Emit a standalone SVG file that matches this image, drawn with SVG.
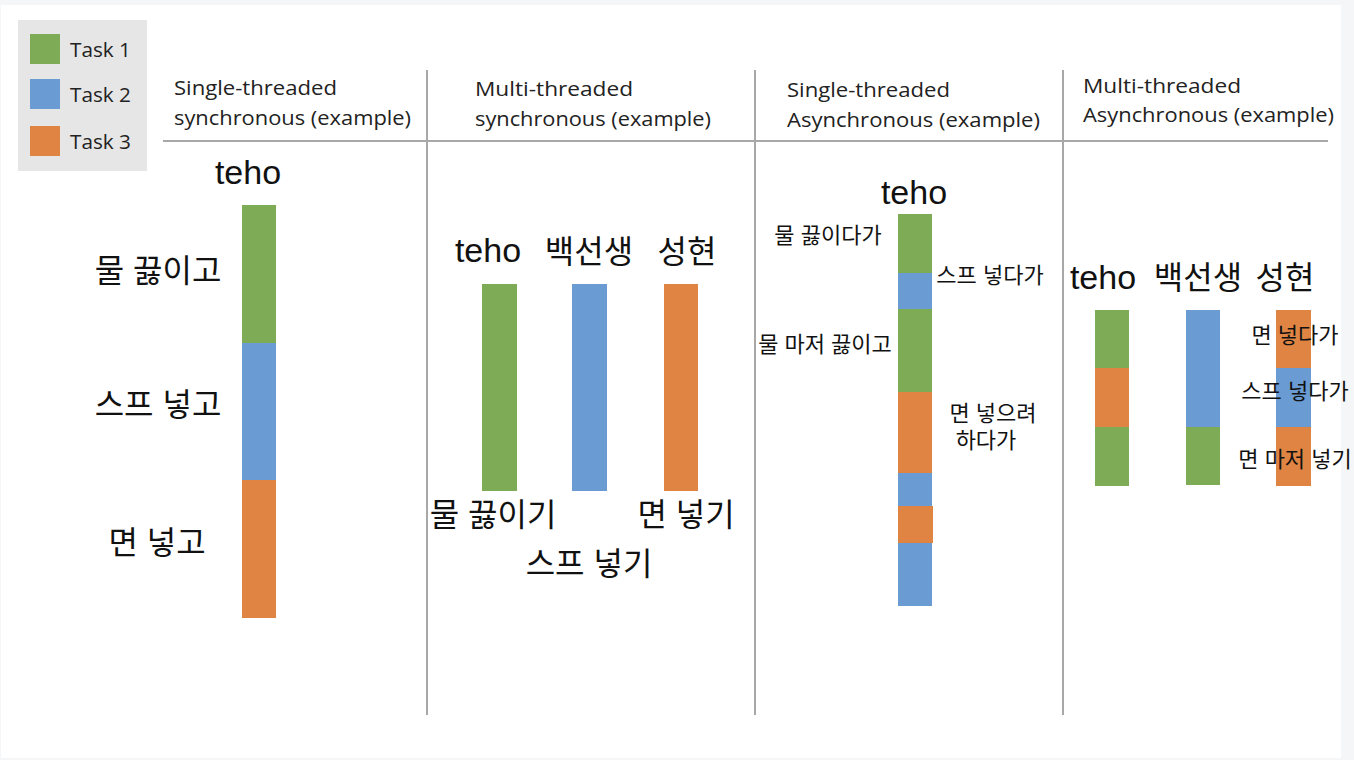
<svg xmlns="http://www.w3.org/2000/svg" width="1354" height="760" viewBox="0 0 1354 760">
<style>
.hdr{font-family:"Open Sans","Liberation Sans",sans-serif;font-size:20px;fill:#222}
.big{font-family:"Liberation Sans","Noto Sans CJK KR",sans-serif;font-size:34px;fill:#111}
.mid{font-family:"Liberation Sans","Noto Sans CJK KR",sans-serif;font-size:32px;fill:#111}
.sm{font-family:"Liberation Sans","Noto Sans CJK KR",sans-serif;font-size:22px;fill:#111}
.leg{font-family:"Open Sans","Liberation Sans",sans-serif;font-size:20px;fill:#222}
.g{fill:#7EAB55}.b{fill:#6A9BD2}.o{fill:#E08443}
.ln{stroke:#a8a8a8;stroke-width:2;fill:none}
</style>
<rect x="0" y="0" width="1354" height="760" fill="#f5f6f8"/>
<rect x="1" y="5" width="1340" height="753" fill="#ffffff"/>
<g id="legend">
<rect x="18" y="20" width="129" height="151" fill="#e6e6e6"/>
<rect class="g" x="30" y="34" width="30" height="30"/>
<rect class="b" x="30" y="79" width="30" height="30"/>
<rect class="o" x="30" y="126" width="30" height="30"/>
<text class="leg" x="70" y="57" textLength="61" lengthAdjust="spacingAndGlyphs">Task 1</text>
<text class="leg" x="70" y="102" textLength="61" lengthAdjust="spacingAndGlyphs">Task 2</text>
<text class="leg" x="70" y="149" textLength="61" lengthAdjust="spacingAndGlyphs">Task 3</text>
</g>
<g id="grid">
<line class="ln" x1="163" y1="141" x2="1328" y2="141"/>
<line class="ln" x1="427" y1="70" x2="427" y2="715"/>
<line class="ln" x1="755" y1="70" x2="755" y2="715"/>
<line class="ln" x1="1063" y1="70" x2="1063" y2="715"/>
</g>
<g id="headers">
<text class="hdr" x="174" y="95" textLength="163" lengthAdjust="spacingAndGlyphs">Single-threaded</text>
<text class="hdr" x="174" y="125" textLength="237" lengthAdjust="spacingAndGlyphs">synchronous (example)</text>
<text class="hdr" x="475" y="96" textLength="158" lengthAdjust="spacingAndGlyphs">Multi-threaded</text>
<text class="hdr" x="475" y="126" textLength="236" lengthAdjust="spacingAndGlyphs">synchronous (example)</text>
<text class="hdr" x="787" y="97" textLength="163" lengthAdjust="spacingAndGlyphs">Single-threaded</text>
<text class="hdr" x="787" y="127" textLength="253" lengthAdjust="spacingAndGlyphs">Asynchronous (example)</text>
<text class="hdr" x="1083" y="93" textLength="158" lengthAdjust="spacingAndGlyphs">Multi-threaded</text>
<text class="hdr" x="1083" y="122" textLength="251" lengthAdjust="spacingAndGlyphs">Asynchronous (example)</text>
</g>
<g id="col1">
<text class="big" x="248" y="184" text-anchor="middle">teho</text>
<rect class="g" x="242" y="205" width="34" height="138"/>
<rect class="b" x="242" y="343" width="34" height="137"/>
<rect class="o" x="242" y="480" width="34" height="138"/>
<text class="mid" x="158" y="282" text-anchor="middle">물 끓이고</text>
<text class="mid" x="158" y="416" text-anchor="middle">스프 넣고</text>
<text class="mid" x="157" y="554" text-anchor="middle">면 넣고</text>
</g>
<g id="col2">
<text class="big" x="488" y="262" text-anchor="middle">teho</text>
<text class="mid" x="589" y="263" text-anchor="middle">백선생</text>
<text class="mid" x="687" y="263" text-anchor="middle">성현</text>
<rect class="g" x="482" y="284" width="35" height="207"/>
<rect class="b" x="572" y="284" width="35" height="207"/>
<rect class="o" x="664" y="284" width="34" height="207"/>
<text class="mid" x="493" y="526" text-anchor="middle">물 끓이기</text>
<text class="mid" x="686" y="526" text-anchor="middle">면 넣기</text>
<text class="mid" x="589" y="575" text-anchor="middle">스프 넣기</text>
</g>
<g id="col3">
<text class="big" x="914" y="204" text-anchor="middle">teho</text>
<rect class="g" x="898" y="214" width="34" height="59"/>
<rect class="b" x="898" y="273" width="34" height="36"/>
<rect class="g" x="898" y="309" width="34" height="83"/>
<rect class="o" x="898" y="392" width="34" height="81"/>
<rect class="b" x="898" y="473" width="34" height="33"/>
<rect class="o" x="898" y="506" width="35" height="37"/>
<rect class="b" x="898" y="543" width="34" height="63"/>
<text class="sm" x="828" y="243" text-anchor="middle">물 끓이다가</text>
<text class="sm" x="990" y="283" text-anchor="middle">스프 넣다가</text>
<text class="sm" x="825" y="352" text-anchor="middle">물 마저 끓이고</text>
<text class="sm" x="993" y="421" text-anchor="middle">면 넣으려</text>
<text class="sm" x="986" y="448" text-anchor="middle">하다가</text>
</g>
<g id="col4">
<text class="big" x="1103" y="289" text-anchor="middle">teho</text>
<text class="mid" x="1198" y="289" text-anchor="middle">백선생</text>
<text class="mid" x="1285" y="289" text-anchor="middle">성현</text>
<rect class="g" x="1095" y="310" width="34" height="58"/>
<rect class="o" x="1095" y="368" width="34" height="59"/>
<rect class="g" x="1095" y="427" width="34" height="59"/>
<rect class="b" x="1186" y="310" width="34" height="117"/>
<rect class="g" x="1186" y="427" width="34" height="58"/>
<rect class="o" x="1276" y="310" width="35" height="58"/>
<rect class="b" x="1276" y="368" width="35" height="59"/>
<rect class="o" x="1276" y="427" width="35" height="59"/>
<text class="sm" x="1295" y="343" text-anchor="middle">면 넣다가</text>
<text class="sm" x="1295" y="399" text-anchor="middle">스프 넣다가</text>
<text class="sm" x="1295" y="467" text-anchor="middle">면 마저 넣기</text>
</g>
</svg>
